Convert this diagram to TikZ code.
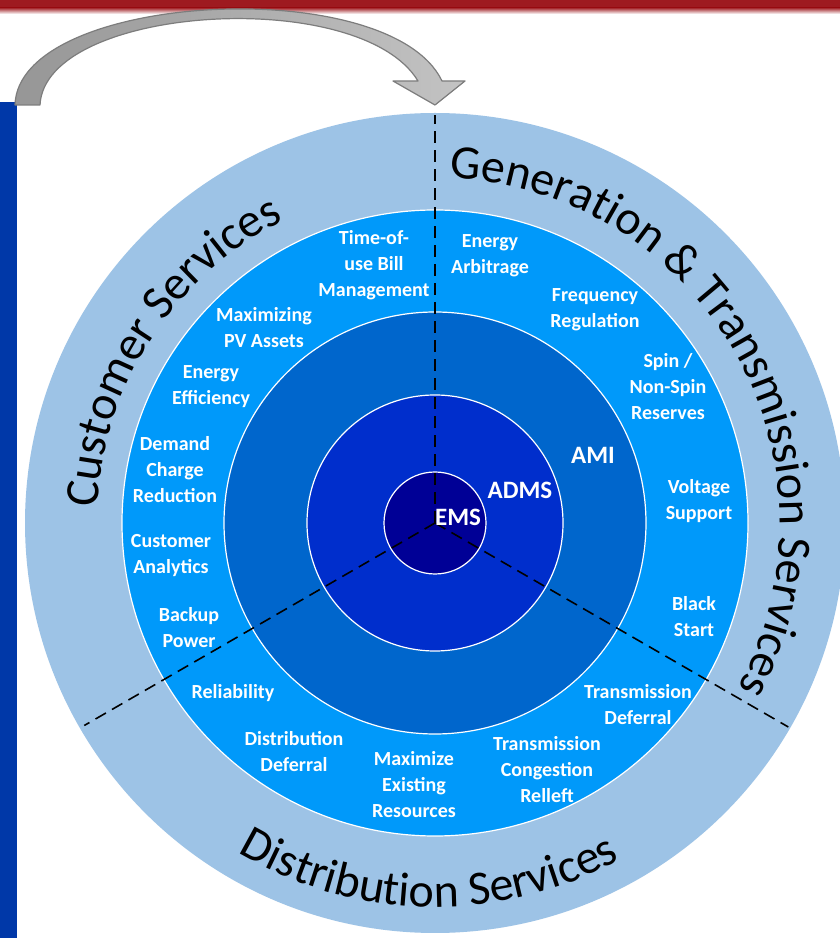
\documentclass[tikz,border=0pt]{standalone}
\usepackage{fontspec}
\setmainfont{Carlito}
\usetikzlibrary{decorations.text,calc}
\definecolor{outerblue}{RGB}{157,195,230}
\definecolor{ringtwo}{RGB}{0,153,250}
\definecolor{ringthree}{RGB}{0,102,204}
\definecolor{ringfour}{RGB}{0,46,204}
\definecolor{emsblue}{RGB}{0,0,150}
\definecolor{barblue}{RGB}{0,56,168}
\definecolor{barred}{RGB}{158,26,32}
\definecolor{arrowdark}{RGB}{150,150,150}
\definecolor{arrowlight}{RGB}{195,195,195}
\definecolor{arrowedge}{RGB}{125,125,125}
\newcommand{\ringfont}{\fontsize{48}{54}\selectfont}
\tikzset{
  lab/.style={font=\bfseries\fontsize{20}{26}\selectfont, text=white, align=center, inner sep=0pt},
  corelab/.style={font=\bfseries\fontsize{25}{30}\selectfont, text=white, inner sep=0pt},
  ringedge/.style={draw=white, line width=1.2pt},
  sector/.style={draw=black, line width=1.6pt, dash pattern=on 12pt off 7pt},
  arctext/.style={decorate, decoration={text along path, text align=center}}
}
\begin{document}
\begin{tikzpicture}[x=1pt,y=1pt]
\useasboundingbox (0,0) rectangle (840,938);
\clip (0,0) rectangle (840,938);
\fill[white] (0,0) rectangle (840,938);
% top red bar
\fill[barred] (0,930) rectangle (840,938);
\shade[top color=barred, bottom color=white] (0,924) rectangle (840,930.5);
% left blue bar
\fill[barblue] (0,0) rectangle (17,836);
% rings
\coordinate (O) at (435,415);
\fill[outerblue] (O) circle[radius=410];
\filldraw[fill=ringtwo, ringedge] (O) circle[radius=313];
\filldraw[fill=ringthree, ringedge] (O) circle[radius=211];
\filldraw[fill=ringfour, ringedge] (O) circle[radius=128];
\filldraw[fill=emsblue, ringedge] (O) circle[radius=51];
% sector lines
\coordinate (top) at ($(O)+(90:408)$);
\coordinate (ll) at ($(O)+(210:405)$);
\coordinate (lr) at ($(O)+(330:408)$);
\draw[sector] (O) -- (top);
\draw[sector] (O) -- (ll);
\draw[sector] (O) -- (lr);
% curved arrow
\shade[left color=arrowdark, right color=arrowlight, draw=arrowedge, line width=1.2pt, line join=round]
  (15,833) .. controls (18,946) and (390,966) .. (442,857)
  -- (465,857) -- (435,833) -- (393,857) -- (418,857)
  .. controls (360,953) and (45,933) .. (40,833) -- cycle;
% core labels
\node[corelab] (ems) at (458,421) {EMS};
\node[corelab] (adms) at (520,448) {ADMS};
\node[corelab] (ami) at (593,483) {AMI};
% service labels
\node[lab] (tou) at (374,673) {Time-of-\\use Bill\\Management};
\node[lab] (arb) at (490,682) {Energy\\Arbitrage};
\node[lab] (pv) at (264,610) {Maximizing\\PV Assets};
\node[lab] (freq) at (595,628) {Frequency\\Regulation};
\node[lab] (eff) at (211,551) {Energy\\Efficiency};
\node[lab] (spin) at (668,551) {Spin /\\Non-Spin\\Reserves};
\node[lab] (dem) at (175,468) {Demand\\Charge\\Reduction};
\node[lab] (volt) at (699,437) {Voltage\\Support};
\node[lab] (cana) at (171,382) {Customer\\Analytics};
\node[lab] (black) at (694,321) {Black\\Start};
\node[lab] (backup) at (189,310) {Backup\\Power};
\node[lab] (rel) at (233,245) {Reliability};
\node[lab] (tdef) at (638,233) {Transmission\\Deferral};
\node[lab] (ddef) at (294,186) {Distribution\\Deferral};
\node[lab] (maxr) at (414,153) {Maximize\\Existing\\Resources};
\node[lab] (tcong) at (547,168) {Transmission\\Congestion\\Relleft};
% ring texts
\path[arctext, decoration={text={|\ringfont|Customer Services}}]
  ($(O)+(192:338)$) arc[start angle=192, end angle=102, radius=338];
\path[arctext, decoration={text={|\ringfont|Generation {\&} Transmission Services}}]
  ($(O)+(105:345)$) arc[start angle=105, end angle=-46, radius=345];
\path[arctext, decoration={text={|\ringfont|Distribution Services}}]
  ($(O)+(222:384)$) arc[start angle=222, end angle=316, radius=384];
\end{tikzpicture}
\end{document}
